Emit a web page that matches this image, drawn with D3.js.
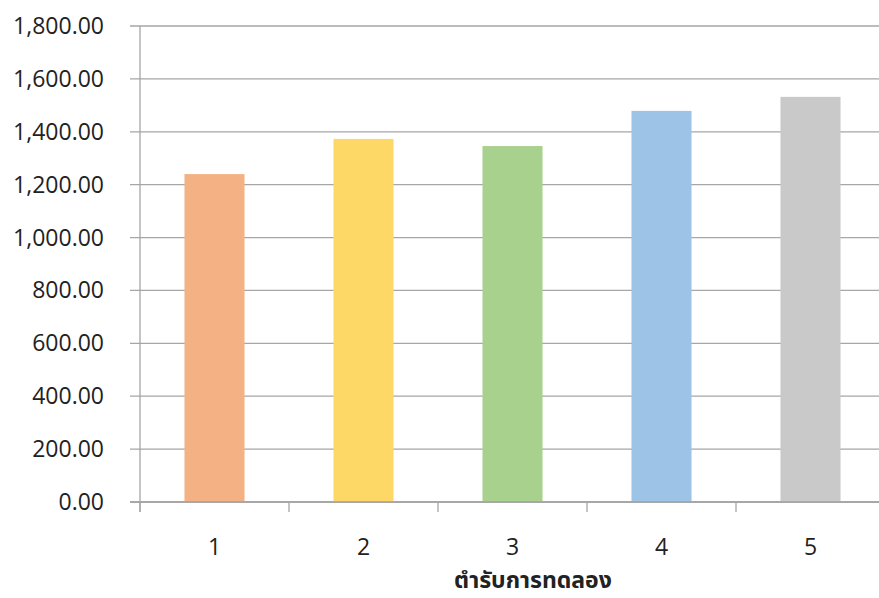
<!DOCTYPE html>
<html><head><meta charset="utf-8">
<script src="https://cdn.jsdelivr.net/npm/d3@7"></script>
<style>body{margin:0;background:#fff}</style>
</head><body>
<svg id="c" width="879" height="598"></svg>
<script>
const categories = ["1","2","3","4","5"];
const values = [1240, 1373, 1346, 1479, 1532];
const colors = ["#F4B183","#FDD866","#A9D18E","#9DC3E6","#C9C9C9"];
const yTicks = [0,200,400,600,800,1000,1200,1400,1600,1800];
const xTitle = "ตำรับการทดลอง";

const svg = d3.select("#c");
const m = {left:140, right:885, top:26, bottom:502};
const font = "'Open Sans', 'Noto Sans', sans-serif";

const x = d3.scaleBand().domain(categories).range([m.left, m.right]).paddingInner(0.597).paddingOuter(0.2985);
const y = d3.scaleLinear().domain([0,1800]).range([m.bottom, m.top]);
const fmt = d3.format(",.2f");

// gridlines
svg.append("g").selectAll("line").data(yTicks).join("line")
  .attr("x1", m.left-10).attr("x2", m.right)
  .attr("y1", d=>y(d)).attr("y2", d=>y(d))
  .attr("stroke", "#a6a6a6").attr("stroke-width", 1.3);

// bars
svg.append("g").selectAll("rect").data(values).join("rect")
  .attr("x", (d,i)=>x(categories[i]))
  .attr("width", x.bandwidth())
  .attr("y", d=>y(d))
  .attr("height", d=>y(0)-y(d))
  .attr("fill", (d,i)=>colors[i]);

// y axis line
svg.append("line").attr("x1", m.left).attr("x2", m.left).attr("y1", m.top).attr("y2", m.bottom+10)
  .attr("stroke", "#a6a6a6").attr("stroke-width", 1.3);
// x axis baseline
svg.append("line").attr("x1", m.left-10).attr("x2", m.right).attr("y1", y(0)).attr("y2", y(0))
  .attr("stroke", "#a0a0a0").attr("stroke-width", 1.3);

// x category ticks (boundaries)
const step = x.step();
const bounds = d3.range(categories.length+1).map(i => m.left + i*step);
svg.append("g").selectAll("line").data(bounds).join("line")
  .attr("x1", d=>d).attr("x2", d=>d).attr("y1", y(0)).attr("y2", y(0)+10)
  .attr("stroke", "#a6a6a6").attr("stroke-width", 1.3);

// y labels
svg.append("g").selectAll("text").data(yTicks).join("text")
  .attr("x", 104).attr("y", d=>y(d)).attr("dy", "0.35em")
  .attr("text-anchor", "end").attr("font-family", font).attr("font-size", 23)
  .attr("fill", "#222").text(d=>fmt(d));

// x labels
svg.append("g").selectAll("text").data(categories).join("text")
  .attr("x", d=>x(d)+x.bandwidth()/2).attr("y", 555)
  .attr("text-anchor", "middle").attr("font-family", font).attr("font-size", 23)
  .attr("fill", "#222").text(d=>d);

// x title
svg.append("text").attr("x", 533).attr("y", 588).attr("text-anchor", "middle")
  .attr("font-family", "'Noto Sans Thai', 'Noto Sans', sans-serif").attr("font-weight", "bold").attr("font-size", 23)
  .attr("fill", "#222").text(xTitle);
</script>
</body></html>
